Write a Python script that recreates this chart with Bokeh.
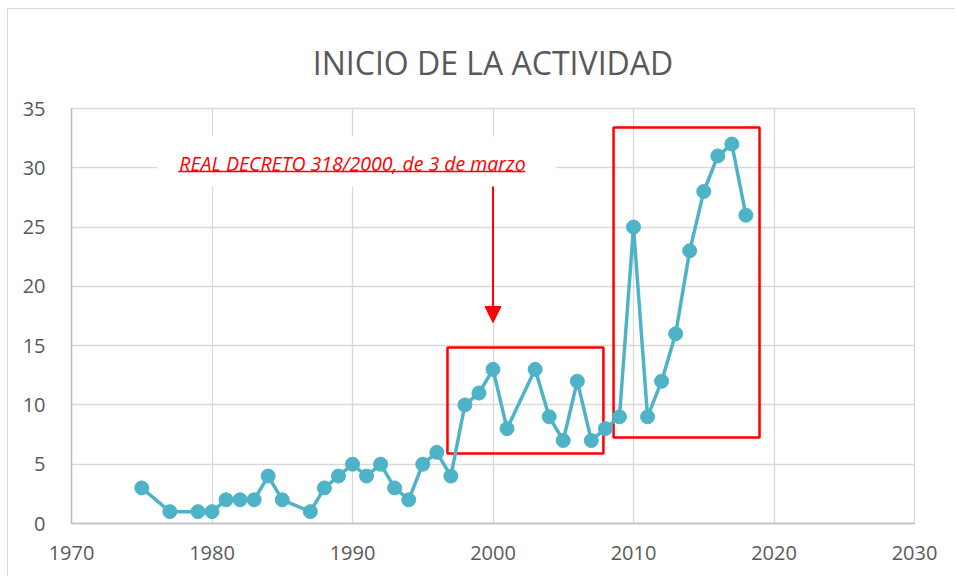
from bokeh.plotting import figure
from bokeh.models import (ColumnDataSource, FixedTicker, Range1d, BoxAnnotation,
                          Arrow, NormalHead, Label, Title)
from bokeh.embed import file_html
from bokeh.resources import INLINE

# ---- data ----
years = [1975, 1977, 1979, 1980, 1981, 1982, 1983, 1984, 1985, 1987, 1988, 1989,
         1990, 1991, 1992, 1993, 1994, 1995, 1996, 1997, 1998, 1999, 2000, 2001,
         2003, 2004, 2005, 2006, 2007, 2008, 2009, 2010, 2011, 2012, 2013, 2014,
         2015, 2016, 2017, 2018]
counts = [3, 1, 1, 1, 2, 2, 2, 4, 2, 1, 3, 4,
          5, 4, 5, 3, 2, 5, 6, 4, 10, 11, 13, 8,
          13, 9, 7, 12, 7, 8, 9, 25, 9, 12, 16, 23,
          28, 31, 32, 26]
x_ticks = [1970, 1980, 1990, 2000, 2010, 2020, 2030]
y_ticks = [0, 5, 10, 15, 20, 25, 30, 35]
title_text = "INICIO DE LA ACTIVIDAD"
note_text = "REAL DECRETO 318/2000, de 3 de marzo"

# annotation geometry in data units
box1 = [1996.76, 2007.86, 5.9, 14.84]
box2 = [2008.58, 2018.97, 7.25, 33.4]
note_bg = [1976.12, 2004.52, 28.42, 32.64]
note_pos = [1990.0, 30.40]
underline = [1977.6, 2002.3, 29.69]
arrow_xy = [2000.0, 28.42, 16.95]

GREY_TXT = "#595959"
LINE_C = "#4FB3C8"
FONT = "Open Sans"

p = figure(width=948, height=568, output_backend="svg", toolbar_location=None,
           x_range=Range1d(1970, 2030), y_range=Range1d(0, 35),
           min_border_left=63, min_border_right=42, min_border_top=99,
           min_border_bottom=54)
p.styles = {"border-left": "1px solid #d9d9d9", "border-top": "1px solid #d9d9d9",
            "margin-left": "7px", "margin-top": "8px"}

p.title = Title(text=title_text, align="center", text_font=FONT, text_font_size="32px",
                text_color=GREY_TXT, text_font_style="normal", standoff=50)

p.outline_line_color = "#d9d9d9"
p.outline_line_width = 1.3
p.background_fill_color = "white"
p.border_fill_color = "white"

for ax in (p.xaxis[0], p.yaxis[0]):
    ax.major_tick_line_color = None
    ax.minor_tick_line_color = None
    ax.axis_line_color = "#bfbfbf"
    ax.axis_line_width = 1.5
    ax.major_label_text_font = FONT
    ax.major_label_text_font_size = "20px"
    ax.major_label_text_color = GREY_TXT
p.xaxis[0].ticker = FixedTicker(ticks=x_ticks)
p.yaxis[0].ticker = FixedTicker(ticks=y_ticks)
p.xaxis[0].major_label_standoff = 16
p.yaxis[0].major_label_standoff = 20

for g in (p.xgrid[0], p.ygrid[0]):
    g.grid_line_color = "#d9d9d9"
    g.grid_line_width = 1.3
p.xgrid[0].ticker = FixedTicker(ticks=x_ticks)
p.ygrid[0].ticker = FixedTicker(ticks=y_ticks)

# red highlight boxes (under the data line)
for b in (box1, box2):
    p.add_layout(BoxAnnotation(left=b[0], right=b[1], bottom=b[2], top=b[3],
                               fill_alpha=0, line_color="#ff0000", line_alpha=1.0,
                               line_width=2.5, level="underlay"))

# white background behind note
p.add_layout(BoxAnnotation(left=note_bg[0], right=note_bg[1], bottom=note_bg[2],
                           top=note_bg[3], fill_color="white", fill_alpha=1,
                           line_color=None, level="underlay"))

src = ColumnDataSource(data=dict(x=years, y=counts))
p.line("x", "y", source=src, line_color=LINE_C, line_width=3.5)
p.scatter("x", "y", source=src, size=14, fill_color=LINE_C, line_color=LINE_C)

p.add_layout(Label(x=note_pos[0], y=note_pos[1], text=note_text, text_align="center",
                   text_baseline="middle", text_font=FONT, text_font_size="19.5px",
                   text_font_style="italic", text_color="#ff0000"))
p.segment(x0=[underline[0]], y0=[underline[2]], x1=[underline[1]], y1=[underline[2]],
          line_color="#ff0000", line_width=1.5)

p.add_layout(Arrow(x_start=arrow_xy[0], y_start=arrow_xy[1], x_end=arrow_xy[0],
                   y_end=arrow_xy[2], line_color="#ff0000", line_width=2,
                   end=NormalHead(size=16, fill_color="#ff0000", line_color="#ff0000")))

open("out.html", "w").write(file_html(p, INLINE))
